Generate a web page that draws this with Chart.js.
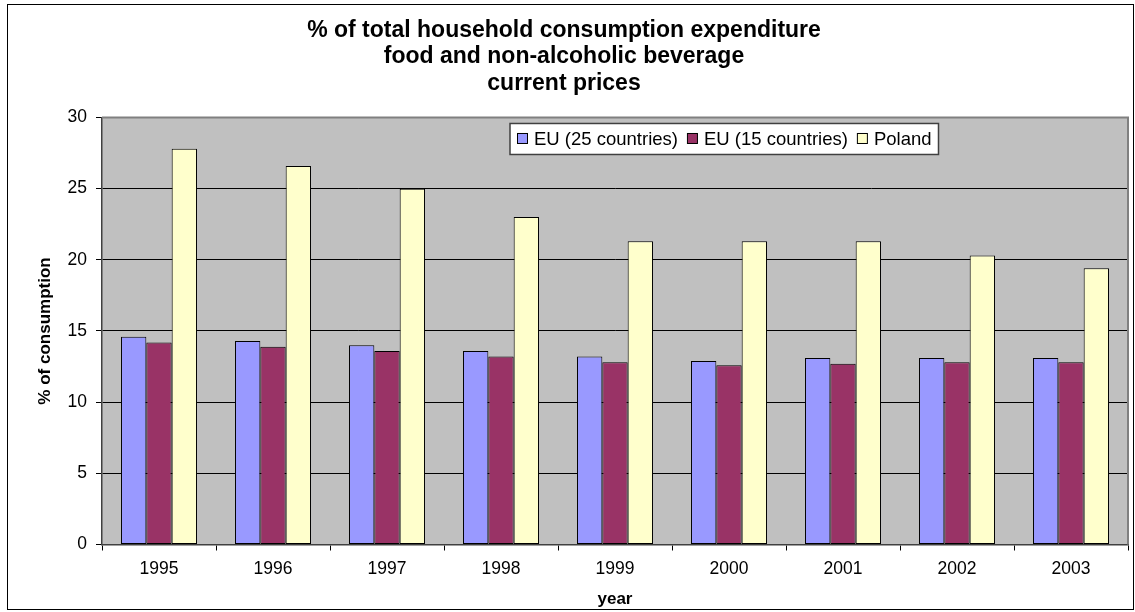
<!DOCTYPE html>
<html>
<head>
<meta charset="utf-8">
<script src="https://cdn.jsdelivr.net/npm/chart.js@4"></script>
<style>
  body { margin: 0; background: #fff; }
  canvas { display: block; }
</style>
</head>
<body>
<canvas id="barChart" width="1135" height="612"></canvas>
<script>
const years = ['1995', '1996', '1997', '1998', '1999', '2000', '2001', '2002', '2003']
const eu25 = [14.6, 14.3, 14.0, 13.6, 13.2, 12.9, 13.1, 13.1, 13.1]
const eu15 = [14.2, 13.9, 13.6, 13.2, 12.8, 12.6, 12.7, 12.8, 12.8]
const poland = [27.8, 26.6, 25.0, 23.0, 21.3, 21.3, 21.3, 20.3, 19.4]
const yTicks = [0, 5, 10, 15, 20, 25, 30]

const fontFamily = '"Liberation Sans", Arial, sans-serif'

// grey plot background, plot frame, legend box and outer frame
const excelLook = {
    id: 'excelLook',
    beforeDraw(chart) {
        const {ctx, chartArea: a} = chart
        ctx.save()
        ctx.fillStyle = '#c0c0c0'
        ctx.fillRect(a.left, a.top, a.right - a.left, a.bottom - a.top)
        ctx.restore()
    },
    beforeDatasetsDraw(chart) {
        const {ctx, chartArea: a} = chart
        ctx.save()
        ctx.strokeStyle = '#808080'
        ctx.lineWidth = 2
        ctx.beginPath()
        ctx.moveTo(a.left, a.top)
        ctx.lineTo(a.right, a.top)
        ctx.lineTo(a.right, a.bottom)
        ctx.stroke()
        ctx.restore()
    },
    afterDatasetsDraw(chart) {
        const {ctx, chartArea: a} = chart
        const sets = chart.data.datasets
        ctx.save()
        ctx.font = '18.5px ' + fontFamily
        ctx.textBaseline = 'middle'
        const sw = 11, gap = 6, itemGap = 9, pad = 7
        let w = pad * 2 - itemGap
        sets.forEach(ds => { w += sw + gap + ctx.measureText(ds.label).width + itemGap })
        const bx = a.left + 408, by = a.top + 6, bh = 31
        ctx.fillStyle = '#fff'
        ctx.fillRect(bx, by, w, bh)
        ctx.strokeStyle = '#404040'
        ctx.lineWidth = 1.5
        ctx.strokeRect(bx, by, w, bh)
        let x = bx + pad
        const cy = by + bh / 2
        sets.forEach(ds => {
            ctx.fillStyle = ds.backgroundColor
            ctx.fillRect(x + 0.5, cy - 5.5, sw - 1, sw - 1)
            ctx.strokeStyle = '#000'
            ctx.lineWidth = 1
            ctx.strokeRect(x + 0.5, cy - 5.5, sw - 1, sw - 1)
            x += sw + gap
            ctx.fillStyle = '#000'
            ctx.fillText(ds.label, x, cy + 1)
            x += ctx.measureText(ds.label).width + itemGap
        })
        ctx.restore()
    },
    afterDraw(chart) {
        const ctx = chart.ctx
        ctx.save()
        ctx.strokeStyle = '#000'
        ctx.lineWidth = 1
        ctx.strokeRect(7.5, 4.5, 1126, 605)
        ctx.restore()
    }
}

const ctx = document.getElementById('barChart').getContext('2d')
const myChart = new Chart(ctx, {
    type: 'bar',
    data: {
        labels: years,
        datasets: [{
            label: 'EU (25 countries)',
            data: eu25,
            backgroundColor: '#9999ff'
        }, {
            label: 'EU (15 countries)',
            data: eu15,
            backgroundColor: '#993366'
        }, {
            label: 'Poland',
            data: poland,
            backgroundColor: '#ffffcc'
        }]
    },
    options: {
        responsive: false,
        animation: false,
        devicePixelRatio: 1,
        layout: { padding: { left: 0, right: 7, top: 0, bottom: 0 } },
        datasets: {
            bar: {
                borderColor: '#000',
                borderWidth: 1,
                borderSkipped: false,
                barPercentage: 1,
                categoryPercentage: 0.667
            }
        },
        plugins: {
            legend: { display: false },
            tooltip: { enabled: false },
            title: {
                display: true,
                text: ['% of total household consumption expenditure', 'food and non-alcoholic beverage', 'current prices'],
                color: '#000',
                font: { family: fontFamily, size: 23, weight: 'bold', lineHeight: 1.152 },
                padding: { top: 17, bottom: 21 }
            }
        },
        scales: {
            x: {
                afterFit(scale) { scale.height = 67.5 },
                grid: { drawOnChartArea: false, drawTicks: true, tickLength: 6, color: '#000' },
                border: { color: '#404040', width: 1.5 },
                ticks: { color: '#000', padding: 8, font: { family: fontFamily, size: 17.5 } },
                title: {
                    display: true,
                    text: 'year',
                    color: '#000',
                    font: { family: fontFamily, size: 17, weight: 'bold' },
                    padding: { top: 0, bottom: 2 }
                }
            },
            y: {
                min: 0,
                max: 30,
                afterFit(scale) { scale.width = 102 },
                afterBuildTicks(scale) { scale.ticks = yTicks.map(v => ({ value: v })) },
                grid: { color: '#000', lineWidth: 1, tickLength: 6, tickColor: '#000' },
                border: { color: '#404040', width: 1.5 },
                ticks: { color: '#000', padding: 9, font: { family: fontFamily, size: 17.5 } },
                title: {
                    display: true,
                    text: '% of consumption',
                    color: '#000',
                    font: { family: fontFamily, size: 17, weight: 'bold' },
                    padding: { top: 35, bottom: 0 }
                }
            }
        }
    },
    plugins: [excelLook]
})
</script>
</body>
</html>
